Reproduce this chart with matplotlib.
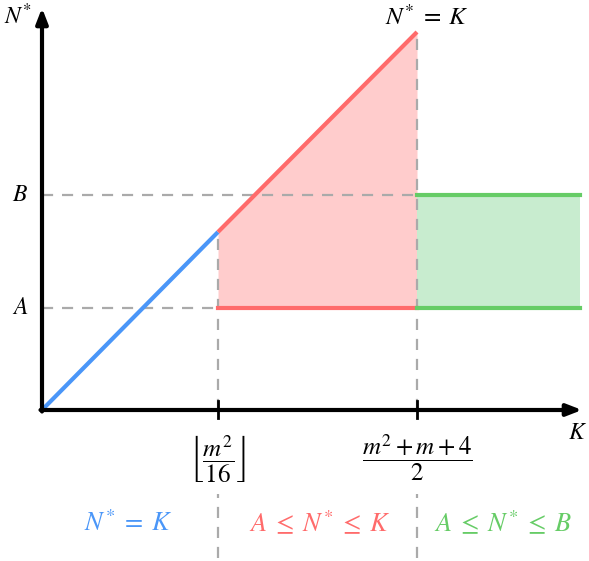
import matplotlib
matplotlib.use("Agg")
import matplotlib.pyplot as plt

plt.rcParams['mathtext.fontset'] = 'stix'
plt.rcParams['font.family'] = 'STIXGeneral'

# diagram units: origin of axes at (0, 0), 1 unit ~ 1 px
k_low = 176      # floor(m^2/16)
k_high = 375     # (m^2+m+4)/2
k_end = 538      # right end of the green band
level_a = 102
level_b = 215
x_max = 540      # arrow tip on K axis
y_max = 402      # arrow tip on N* axis

blue_x = [0, k_low]
blue_y = [0, 178]
red_x = [k_low, k_high]
red_y = [178, 378]

tick_pos = [k_low, k_high]
tick_labels = [r'$\left\lfloor\dfrac{m^2}{16}\right\rfloor$', r'$\dfrac{m^2+m+4}{2}$']

region_text = [r'$N^{*}\;=\;K$', r'$A\;\leq\;N^{*}\;\leq\;K$', r'$A\;\leq\;N^{*}\;\leq\;B$']
region_x = [86, 278, 461]
region_col = ['#4a96f8', '#ff6b6b', '#66cc66']

BLUE = '#4a96f8'
RED = '#ff6b6b'
RED_FILL = '#ffcccc'
GREEN = '#66cc66'
GREEN_FILL = '#c8eccf'
GRAY = '#aaaaaa'

fig = plt.figure(figsize=(5.89, 5.61), dpi=100)
ax = fig.add_axes([0, 0, 1, 1])
ax.set_xlim(-42, 547)
ax.set_ylim(-151, 410)
ax.axis('off')

# shaded regions
ax.fill_between(red_x, [level_a, level_a], red_y, color=RED_FILL, lw=0, zorder=1)
ax.fill_between([k_high, k_end], [level_a, level_a], [level_b, level_b],
                color=GREEN_FILL, lw=0, zorder=1)

# guides (vertical ones break around the tick labels)
dash = dict(color=GRAY, lw=1.6, ls=(0, (5, 4)), zorder=2)
ax.plot([0, k_high], [level_b, level_b], **dash)
ax.plot([0, k_low], [level_a, level_a], **dash)
ax.plot([k_low, k_low], [0, blue_y[1]], **dash)
ax.plot([k_high, k_high], [0, red_y[1]], **dash)
ax.plot([k_low, k_low], [-148, -84], **dash)
ax.plot([k_high, k_high], [-148, -84], **dash)

# curves
ax.plot(blue_x, blue_y, color=BLUE, lw=3, solid_capstyle='butt', zorder=3)
ax.plot(red_x, red_y, color=RED, lw=3, solid_capstyle='butt', zorder=3)
ax.plot([k_low, k_high], [level_a, level_a], color=RED, lw=3, zorder=3)
ax.plot([k_high, k_end], [level_a, level_a], color=GREEN, lw=3, zorder=3)
ax.plot([k_high, k_end], [level_b, level_b], color=GREEN, lw=3, zorder=3)

# axes with arrows
arr = dict(arrowstyle='-|>,head_length=0.9,head_width=0.35', color='black', lw=3,
           shrinkA=0, shrinkB=0)
ax.annotate('', xy=(x_max, 0), xytext=(-1.5, 0), arrowprops=arr, zorder=4,
            annotation_clip=False)
ax.annotate('', xy=(0, y_max), xytext=(0, -1.5), arrowprops=arr, zorder=4,
            annotation_clip=False)

for p, lab in zip(tick_pos, tick_labels):
    ax.plot([p, p], [-8, 9], color='black', lw=2, zorder=5)
    ax.text(p, -48, lab, ha='center', va='center', fontsize=18)

ax.text(-24, y_max - 8, r'$N^{*}$', ha='center', va='center', fontsize=17)
ax.text(536, -23, r'$K$', ha='center', va='center', fontsize=17)
ax.text(-22, level_b, r'$B$', ha='center', va='center', fontsize=17)
ax.text(-22, level_a, r'$A$', ha='center', va='center', fontsize=17)
ax.text(k_high + 10, 392, r'$N^{*}\;=\;K$', ha='center', va='center', fontsize=18)

for t, x, c in zip(region_text, region_x, region_col):
    ax.text(x, -114, t, ha='center', va='center', fontsize=19, color=c)

fig.savefig('out.png', dpi=100)
